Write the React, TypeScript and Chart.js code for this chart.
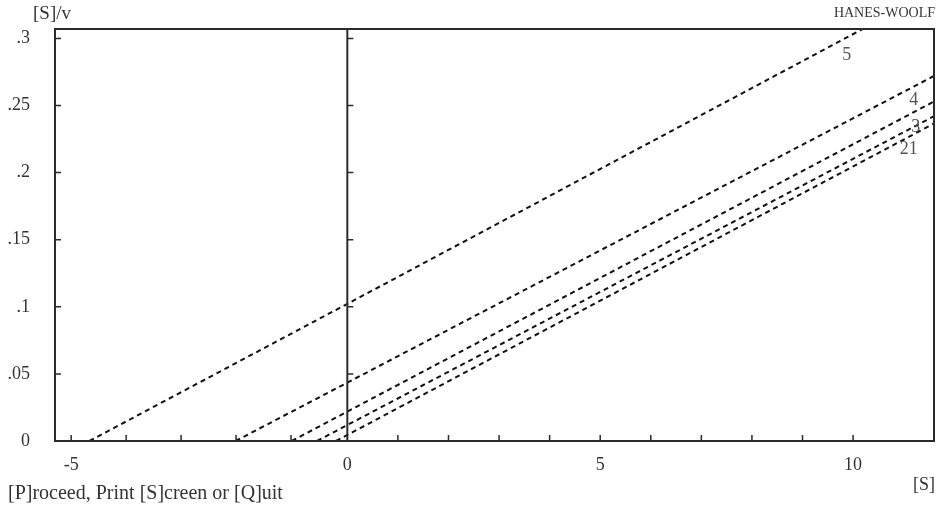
import React, { useEffect, useRef } from "react";
import { Chart, registerables } from "chart.js";

Chart.register(...registerables);

// ---- data ----
const seriesNames = ["1", "2", "3", "4", "5"];
const line1X = [-0.225, 0, 11.6];
const line1Y = [0, 0.0045, 0.2366];
const line2X = [-0.6, 0, 11.6];
const line2Y = [0, 0.0119, 0.242];
const line3X = [-1.1, 0, 11.6];
const line3Y = [0, 0.0219, 0.253];
const line4X = [-2.21, 0, 11.6];
const line4Y = [0, 0.0435, 0.272];
const line5X = [-5.1, 0, 10.2];
const line5Y = [0, 0.1022, 0.3072];

const xTickValues = [-5.46, -4.373, -3.287, -2.2, -1.113, 0, 1, 2, 3, 4, 5, 6, 7, 8, 9, 10];
const xTickLabels = ["-5", "", "", "", "", "0", "", "", "", "", "5", "", "", "", "", "10"];
const yTickValues = [0, 0.05, 0.1, 0.15, 0.2, 0.25, 0.3];
const yTickLabels = ["0", ".05", ".1", ".15", ".2", ".25", ".3"];

const lineLabelTexts = ["21", "3", "4", "5"];
const lineLabelX = [11.1, 11.24, 11.2, 9.876];
const lineLabelY = [0.2172, 0.2336, 0.2537, 0.2873];

const xMin = -5.78;
const xMax = 11.6;
const yMin = 0;
const yMax = 0.307;

const titleText = "HANES-WOOLF";
const yAxisTitle = "[S]/v";
const xAxisTitle = "[S]";
const footerText = "[P]roceed, Print [S]creen or [Q]uit";

const FONT = '"Liberation Serif", "DejaVu Serif", serif';

const lineXs = [line1X, line2X, line3X, line4X, line5X];
const lineYs = [line1Y, line2Y, line3Y, line4Y, line5Y];

const framePlugin = {
  id: "hwFrame",
  afterDatasetsDraw(chart: any) {
    const { ctx, chartArea: a, scales } = chart;
    const x = scales.x;
    const y = scales.y;
    ctx.save();
    ctx.strokeStyle = "#2b2b2b";
    ctx.lineWidth = 2;
    ctx.strokeRect(a.left, a.top, a.right - a.left, a.bottom - a.top);
    const x0 = x.getPixelForValue(0);
    ctx.beginPath();
    ctx.moveTo(x0, a.top);
    ctx.lineTo(x0, a.bottom);
    ctx.stroke();

    ctx.lineWidth = 1.5;
    ctx.beginPath();
    x.ticks.forEach((t: any) => {
      if (t.value === 0) return;
      const px = x.getPixelForValue(t.value);
      ctx.moveTo(px, a.bottom);
      ctx.lineTo(px, a.bottom - 6);
    });
    y.ticks.forEach((t: any) => {
      if (t.value === 0) return;
      const py = y.getPixelForValue(t.value);
      ctx.moveTo(a.left, py);
      ctx.lineTo(a.left + 6, py);
      ctx.moveTo(x0, py);
      ctx.lineTo(x0 + 6, py);
    });
    ctx.stroke();

    ctx.fillStyle = "#555";
    ctx.font = `18px ${FONT}`;
    ctx.textAlign = "center";
    ctx.textBaseline = "middle";
    lineLabelTexts.forEach((s, i) => {
      ctx.fillText(s, x.getPixelForValue(lineLabelX[i]), y.getPixelForValue(lineLabelY[i]));
    });
    ctx.restore();
  },
  afterDraw(chart: any) {
    const { ctx, chartArea: a } = chart;
    ctx.save();
    ctx.fillStyle = "#333";
    ctx.textBaseline = "alphabetic";
    ctx.font = `19px ${FONT}`;
    ctx.textAlign = "left";
    ctx.fillText(yAxisTitle, 33, 19);
    ctx.font = `14px ${FONT}`;
    ctx.textAlign = "right";
    ctx.fillText(titleText, a.right + 1, 17);
    ctx.font = `18px ${FONT}`;
    ctx.textAlign = "right";
    ctx.fillText(xAxisTitle, a.right + 1, 490);
    ctx.font = `20px ${FONT}`;
    ctx.textAlign = "left";
    ctx.fillText(footerText, 8, 499);
    ctx.restore();
  },
};

export default function App() {
  const canvasRef = useRef<HTMLCanvasElement | null>(null);

  useEffect(() => {
    if (!canvasRef.current) return;
    const datasets = seriesNames.map((name, i) => ({
      label: name,
      data: lineXs[i].map((xv, j) => ({ x: xv, y: lineYs[i][j] })),
      showLine: true,
      borderColor: "#111",
      borderWidth: 2,
      borderDash: [5, 4],
      pointRadius: 0,
      fill: false,
    }));
    const chart = new Chart(canvasRef.current, {
      type: "scatter",
      data: { datasets },
      plugins: [framePlugin],
      options: {
        animation: false,
        responsive: true,
        maintainAspectRatio: false,
        layout: { padding: { top: 29, right: 13, left: 8, bottom: 0 } },
        plugins: { legend: { display: false }, tooltip: { enabled: false }, title: { display: false } },
        scales: {
          x: {
            type: "linear",
            min: xMin,
            max: xMax,
            afterBuildTicks: (scale: any) => {
              scale.ticks = xTickValues.map((v) => ({ value: v }));
            },
            afterFit: (scale: any) => {
              scale.height = 71;
              scale.paddingLeft = 0;
              scale.paddingRight = 0;
              scale.paddingTop = 0;
              scale.paddingBottom = 0;
            },
            ticks: {
              autoSkip: false,
              maxRotation: 0,
              padding: 13,
              color: "#333",
              font: { family: FONT, size: 18 },
              callback: (_v: any, index: number) => xTickLabels[index],
            },
            grid: { display: false, drawTicks: false },
            border: { display: false },
          },
          y: {
            type: "linear",
            min: yMin,
            max: yMax,
            afterBuildTicks: (scale: any) => {
              scale.ticks = yTickValues.map((v) => ({ value: v }));
            },
            afterFit: (scale: any) => {
              scale.width = 47;
              scale.paddingTop = 0;
              scale.paddingBottom = 0;
              scale.paddingLeft = 0;
              scale.paddingRight = 0;
            },
            ticks: {
              autoSkip: false,
              padding: 25,
              color: "#333",
              font: { family: FONT, size: 18 },
              callback: (_v: any, index: number) => yTickLabels[index],
            },
            grid: { display: false, drawTicks: false },
            border: { display: false },
          },
        },
      } as any,
    });
    return () => chart.destroy();
  }, []);

  return (
    <div style={{ position: "fixed", left: 0, top: 0, width: 947, height: 512, background: "#fff" }}>
      <canvas ref={canvasRef} style={{ display: "block" }} />
    </div>
  );
}
